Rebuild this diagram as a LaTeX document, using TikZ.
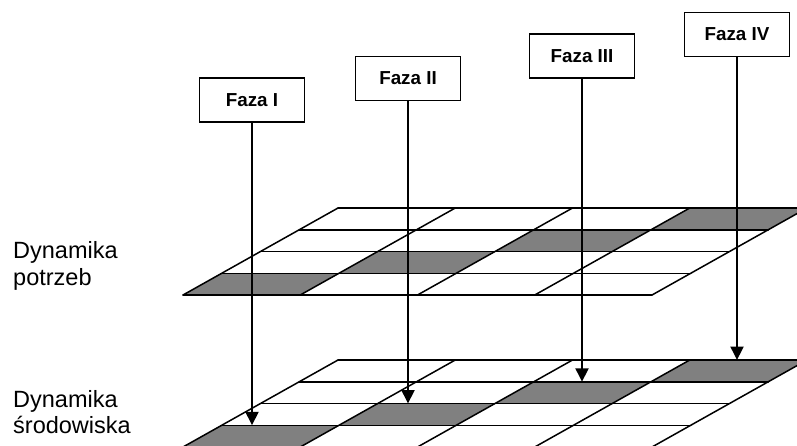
\documentclass[tikz,border=0pt]{standalone}
\usepackage{fontspec}
\setmainfont{Liberation Sans}
\usetikzlibrary{arrows.meta}
\tikzset{
  cellfill/.style={fill=black!50},
  gridline/.style={line width=1.5pt, line cap=round},
  phase/.style={draw, line width=1.6pt, fill=white, minimum width=105pt,
    minimum height=44pt, inner sep=0pt,
    font=\fontsize{18.8}{21}\selectfont\bfseries},
  pointer/.style={line width=2pt, -{Triangle[width=13pt,length=13.5pt]}},
  lvltext/.style={inner sep=0pt, anchor=base west,
    font=\fontsize{23.5}{27}\selectfont},
  % one layer: 4 x 4 cells in a slanted plane, diagonal cells shaded
  plane/.pic={
    \begin{scope}[x={(117.25pt,0pt)}, y={(38.75pt,21.75pt)}]
      \foreach \k in {0,...,3}
        \fill[cellfill] (\k,\k) -- ++(1,0) -- ++(0,1) -- ++(-1,0) -- cycle;
      \foreach \v in {0,...,4}
        \draw[gridline] (0,\v) -- (4,\v);
      \foreach \u in {0,...,4}
        \draw[gridline] (\u,0) -- (\u,4);
    \end{scope}
  }
}
\begin{document}
\begin{tikzpicture}[x=1pt,y=-1pt]
\useasboundingbox (0,0) rectangle (797,445);
\clip (0,0) rectangle (797,445);

% the two layers
\pic at (183,295) {plane};
\pic at (183,447) {plane};

% side captions
\node[lvltext] (needs1) at (13,258) {Dynamika};
\node[lvltext] (needs2) at (13,285) {potrzeb};
\node[lvltext] (env1) at (13,407) {Dynamika};
\node[lvltext] (env2) at (13,433) {środowiska};

% phase boxes
\node[phase] (f1) at (252,100) {Faza I};
\node[phase] (f2) at (408,78.5) {Faza II};
\node[phase] (f3) at (582,56) {Faza III};
\node[phase] (f4) at (737,34.5) {Faza IV};

% arrow ends on the lower layer
\coordinate (t1) at (252,425.25);
\coordinate (t2) at (408,403.5);
\coordinate (t3) at (582,381.75);
\coordinate (t4) at (737,360);

\draw[pointer] (f1.south) -- (t1);
\draw[pointer] (f2.south) -- (t2);
\draw[pointer] (f3.south) -- (t3);
\draw[pointer] (f4.south) -- (t4);
\end{tikzpicture}
\end{document}
